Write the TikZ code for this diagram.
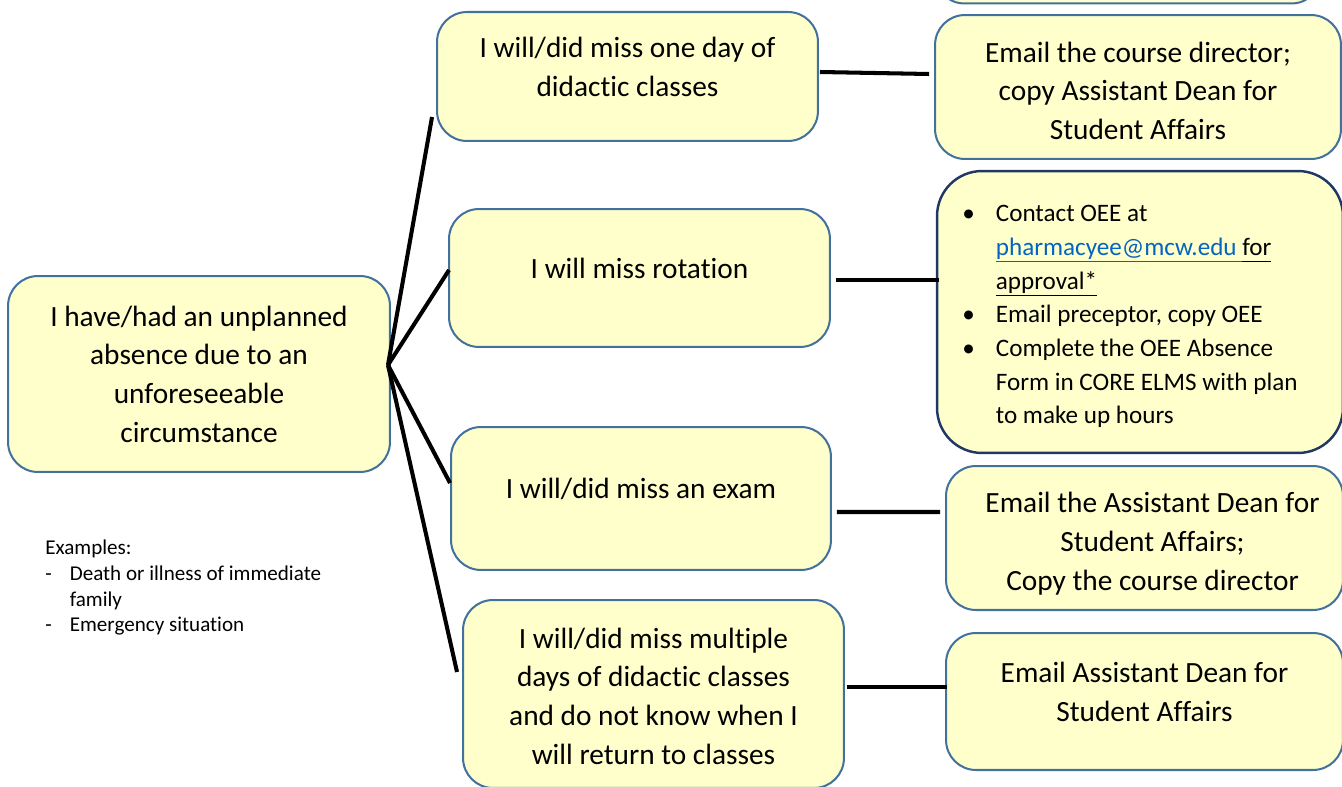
\documentclass[tikz,border=0pt]{standalone}
\usepackage{fontspec}
\setmainfont{Carlito}[Ligatures=NoCommon]
\usepackage{xcolor}

\definecolor{boxfill}{HTML}{FFFFCC}
\definecolor{boxline}{HTML}{41719C}
\definecolor{navyline}{HTML}{1F3864}
\definecolor{linkblue}{HTML}{0563C1}

\newcommand{\ulin}[1]{\underline{\smash{#1}\vphantom{p}}}

\tikzset{
  box/.style={draw=boxline, fill=boxfill, line width=1.15pt, rounded corners=0.6cm,
    align=center, inner sep=0pt, font=\fontsize{16.7}{22}\selectfont},
  raised/.style={text depth=0.4cm},
  link/.style={line width=2.3pt, black}
}

\begin{document}
\begin{tikzpicture}[x=0.02cm, y=-0.02cm]
	\useasboundingbox (0,0) rectangle (1342,787);
	\clip (0,0) rectangle (1342,787);

	\node[box, minimum width=7.64cm, minimum height=3.92cm] (absence) at (199,374)
		{I have/had an unplanned\\ absence due to an\\ unforeseeable\\ circumstance};

	\node[box, raised, minimum width=7.62cm, minimum height=2.58cm] (oneday) at (627.5,76.5)
		{I will/did miss one day of\\ didactic classes};
	\node[box, raised, minimum width=7.62cm, minimum height=2.76cm] (rotation) at (639.5,278)
		{I will miss rotation};
	\node[box, raised, minimum width=7.6cm, minimum height=2.86cm] (exam) at (641,498.5)
		{I will/did miss an exam};
	\node[box, minimum width=7.62cm, minimum height=3.76cm, text height=80pt] (multiday) at (653.5,694)
		{I will/did miss multiple\\ days of didactic classes\\ and do not know when I\\ will return to classes};

	\node[box, minimum width=7.74cm, minimum height=2.06cm] (topbox) at (1128,-48) {};
	\node[box, minimum width=8.12cm, minimum height=2.88cm, text height=59.7pt] (onedayplan) at (1138,87)
		{Email the course director;\\ copy Assistant Dean for\\ Student Affairs};
	\node[box, draw=navyline, line width=1.4pt, rounded corners=0.9cm,
		minimum width=8.12cm, minimum height=5.64cm, text depth=59pt,
		font=\fontsize{14.3}{19.2}\selectfont] (rotationplan) at (1140,312)
		{\begin{tabular}{@{}c@{\hspace{0.42cm}}l@{\hspace{0.4cm}}}
			\textbullet & Contact OEE at\\
			& {\color{linkblue}\ulin{pharmacyee@mcw.edu\ }}\ulin{for}\\
			& \ulin{approval*}\\
			\textbullet & Email preceptor, copy OEE\\
			\textbullet & Complete the OEE Absence\\
			& Form in CORE ELMS with plan\\
			& to make up hours
		\end{tabular}};
	\node[box, minimum width=7.94cm, minimum height=2.88cm, text depth=22pt] (examplan) at (1144.5,538)
		{\begin{tabular}{@{\hspace{0.32cm}}c@{}}
			Email the Assistant Dean for\\ Student Affairs;\\ Copy the course director
		\end{tabular}};
	\node[box, raised, minimum width=7.94cm, minimum height=2.74cm] (multidayplan) at (1144.5,701.5)
		{Email Assistant Dean for\\ Student Affairs};

	\node[anchor=north west, inner sep=0pt, font=\fontsize{12}{14.7}\selectfont] (examples) at (45,536)
		{\begin{tabular}{@{}l@{\hspace{0.36cm}}l@{}}
			\multicolumn{2}{@{}l}{Examples:}\\
			- & Death or illness of immediate\\
			& family\\
			- & Emergency situation
		\end{tabular}};

	\coordinate (hub) at ([shift={(-3,-9)}]absence.east);
	\draw[link] (hub) -- ([shift={(-4,40.5)}]oneday.west);
	\draw[link] (hub) -- ([shift={(1,-8)}]rotation.west);
	\draw[link] (hub) -- ([shift={(0,-15.5)}]exam.west);
	\draw[link] (hub) -- ([shift={(-5,-22)}]multiday.west);

	\draw[link] ([shift={(1,-4.5)}]oneday.east) -- ([shift={(-5,-13)}]onedayplan.west);
	\draw[link] ([shift={(5,2)}]rotation.east) -- ([shift={(3,-32)}]rotationplan.west);
	\draw[link] ([shift={(5,13.5)}]exam.east) -- ([shift={(-5,-26)}]examplan.west);
	\draw[link] ([shift={(2,-7)}]multiday.east) -- ([shift={(2,-14.5)}]multidayplan.west);
\end{tikzpicture}
\end{document}
